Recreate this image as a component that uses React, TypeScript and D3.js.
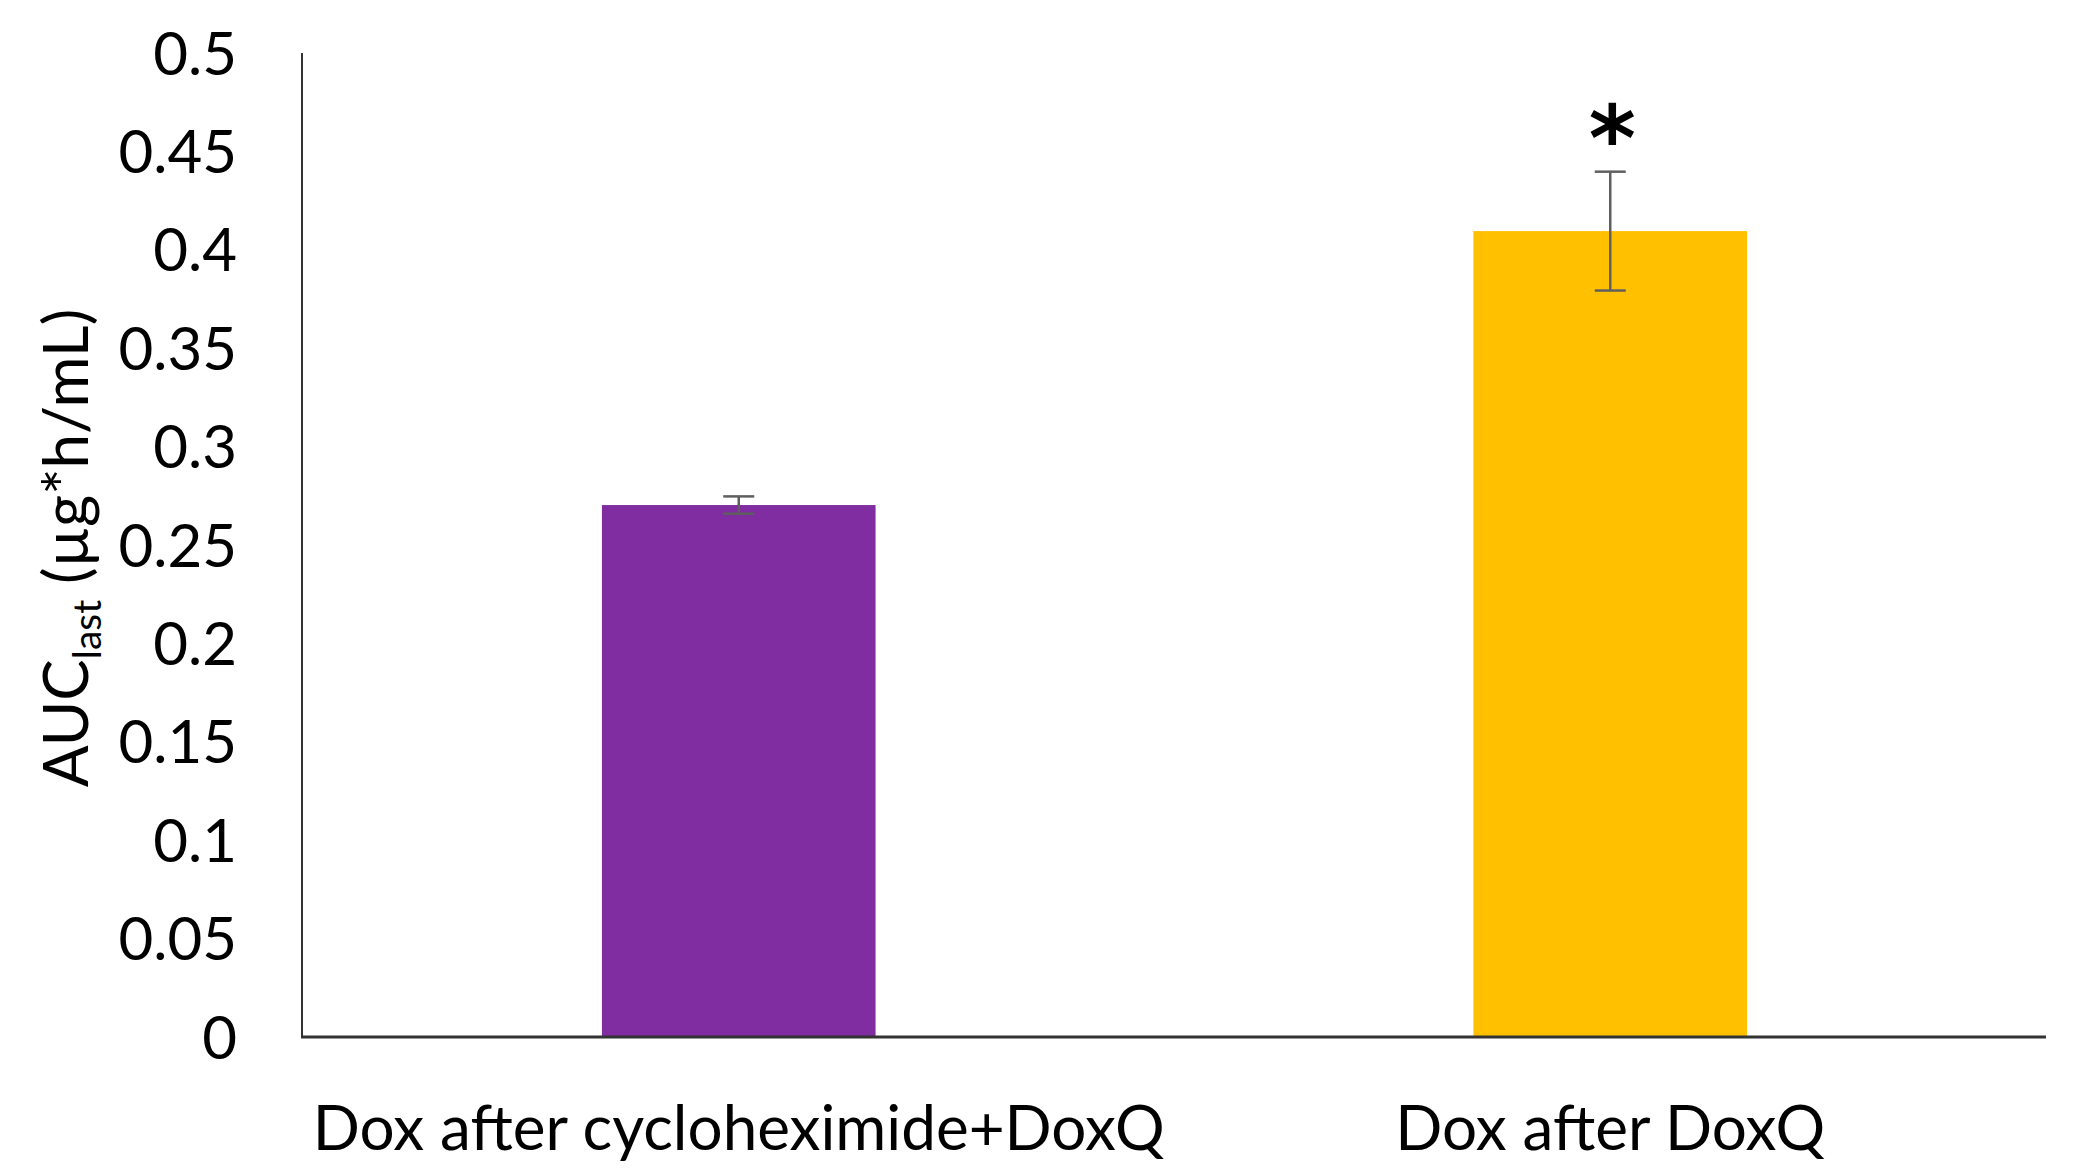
import React from "react";
import * as d3 from "d3";

const categories = ["Dox after cycloheximide+DoxQ", "Dox after DoxQ"];
const values = [0.2703, 0.4095];
const errors = [0.0044, 0.0302];
const barColors = ["#7F2DA0", "#FFC000"];
const significance = ["", "*"];
const yTicks = [0, 0.05, 0.1, 0.15, 0.2, 0.25, 0.3, 0.35, 0.4, 0.45, 0.5];
const yTickLabels = ["0", "0.05", "0.1", "0.15", "0.2", "0.25", "0.3", "0.35", "0.4", "0.45", "0.5"];

const W = 2079;
const H = 1171;
const left = 303;
const right = 2046;
const top = 53;
const bottom = 1037;
const FONT = "Lato, 'Open Sans', sans-serif";

export default function App() {
  const x = d3
    .scaleBand<string>()
    .domain(categories)
    .range([left, right])
    .paddingInner(0.686)
    .paddingOuter(0.343);
  const y = d3.scaleLinear().domain([0, 0.5]).range([bottom, top]);
  const capW = 31;

  return (
    <svg
      width={W}
      height={H}
      style={{ position: "absolute", left: 0, top: 0, background: "#fff" }}
      fontFamily={FONT}
    >
      <rect x={0} y={0} width={W} height={H} fill="#fff" />
      {/* bars */}
      {categories.map((c, i) => (
        <rect
          key={c}
          x={x(c)}
          y={y(values[i])}
          width={x.bandwidth()}
          height={y(0) - y(values[i])}
          fill={barColors[i]}
        />
      ))}
      {/* error bars */}
      {categories.map((c, i) => {
        const cx = (x(c) as number) + x.bandwidth() / 2;
        const y1 = y(values[i] + errors[i]);
        const y2 = y(values[i] - errors[i]);
        return (
          <g key={"e" + c} stroke="#5f5f5f" strokeWidth={2.5} fill="none">
            <line x1={cx} x2={cx} y1={y1} y2={y2} />
            <line x1={cx - capW / 2} x2={cx + capW / 2} y1={y1} y2={y1} />
            <line x1={cx - capW / 2} x2={cx + capW / 2} y1={y2} y2={y2} />
          </g>
        );
      })}
      {/* significance */}
      {categories.map((c, i) =>
        significance[i] ? (
          <text
            key={"s" + c}
            x={(x(c) as number) + x.bandwidth() / 2 + 2}
            y={y(values[i] + errors[i]) - 2}
            textAnchor="middle"
            fontSize={90}
            fontFamily="'DejaVu Sans', sans-serif"
            fontWeight="bold"
            fill="#000"
          >
            {significance[i]}
          </text>
        ) : null
      )}
      {/* axes */}
      <line x1={left - 1} x2={left - 1} y1={top} y2={bottom} stroke="#333" strokeWidth={2} />
      <line x1={left - 2} x2={right} y1={bottom} y2={bottom} stroke="#333" strokeWidth={3} />
      {/* y tick labels */}
      {yTicks.map((t, i) => (
        <text
          key={"t" + t}
          x={237}
          y={y(t)}
          dy="0.36em"
          textAnchor="end"
          fontSize={60}
          fill="#000"
        >
          {yTickLabels[i]}
        </text>
      ))}
      {/* x labels */}
      {categories.map((c) => (
        <text
          key={"l" + c}
          x={(x(c) as number) + x.bandwidth() / 2}
          y={1150}
          textAnchor="middle"
          fontSize={62}
          fill="#000"
        >
          {c}
        </text>
      ))}
      {/* y axis title */}
      <text
        transform={`translate(88, ${(top + bottom) / 2 + 3}) rotate(-90)`}
        textAnchor="middle"
        fontSize={62}
        fill="#000"
      >
        AUC
        <tspan fontSize={39} dy={13}>last</tspan>
        <tspan dy={-13}> (µg*h/mL)</tspan>
      </text>
    </svg>
  );
}
